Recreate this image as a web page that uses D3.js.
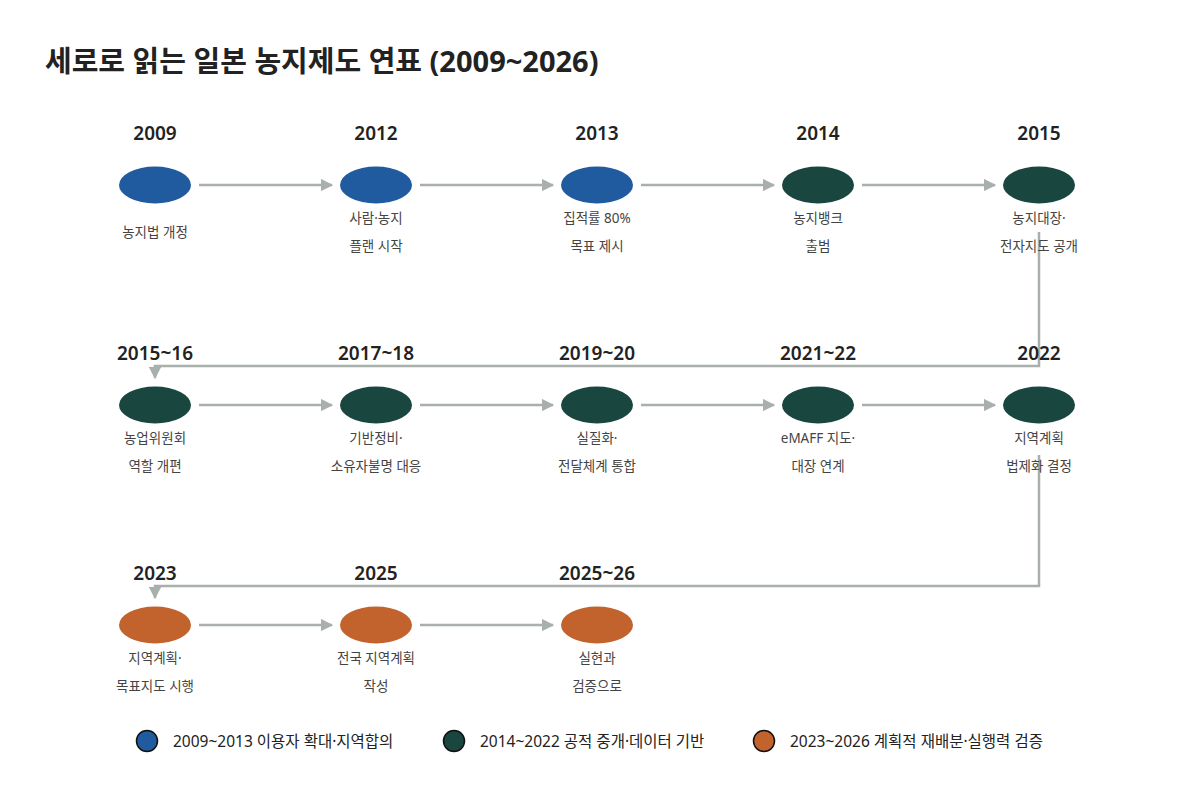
<!DOCTYPE html>
<html><head><meta charset="utf-8">
<script src="https://cdn.jsdelivr.net/npm/d3@7"></script>
<style>body{margin:0;background:#fff;font-family:"Noto Sans","Noto Sans CJK KR",sans-serif}</style>
</head><body><svg id="c" width="1194" height="805"></svg>
<script>
const years = ["2009","2012","2013","2014","2015","2015~16","2017~18","2019~20","2021~22","2022","2023","2025","2025~26"];
const labels = [["농지법 개정"],["사람·농지","플랜 시작"],["집적률 80%","목표 제시"],["농지뱅크","출범"],["농지대장·","전자지도 공개"],
  ["농업위원회","역할 개편"],["기반정비·","소유자불명 대응"],["실질화·","전달체계 통합"],["eMAFF 지도·","대장 연계"],["지역계획","법제화 결정"],
  ["지역계획·","목표지도 시행"],["전국 지역계획","작성"],["실현과","검증으로"]];
const phase = [0,0,0,1,1,1,1,1,1,1,2,2,2];
const phaseNames = ["2009~2013 이용자 확대·지역합의","2014~2022 공적 중개·데이터 기반","2023~2026 계획적 재배분·실행력 검증"];
const colors = ["#1f5b9e","#1a4640","#c2622c"];

const svg = d3.select("#c");
const x = d3.scalePoint().domain(d3.range(5)).range([155,1039]);
const y = d3.scalePoint().domain(d3.range(3)).range([185,625]);
const grey = "#a9b0ab";
svg.append("defs").append("marker").attr("id","ah").attr("viewBox","0 0 10 10").attr("refX",9).attr("refY",5)
  .attr("markerWidth",5).attr("markerHeight",5).attr("orient","auto")
  .append("path").attr("d","M0,0L10,5L0,10Z").attr("fill",grey);

svg.append("text").attr("x",45).attr("y",72).attr("font-size",29).attr("font-weight",700).attr("fill","#222")
  .text("세로로 읽는 일본 농지제도 연표 (2009~2026)");

const nodes = years.map((yr,i)=>({yr,lab:labels[i],ph:phase[i],col:i%5,row:Math.floor(i/5)}));
const g = svg.append("g");
nodes.forEach((d,i)=>{
  const n = nodes[i+1];
  if(n && n.row===d.row){
    g.append("line").attr("x1",x(d.col)+44).attr("x2",x(n.col)-44).attr("y1",y(d.row)).attr("y2",y(d.row))
      .attr("stroke",grey).attr("stroke-width",2.5).attr("marker-end","url(#ah)");
  }
});
[0,1].forEach(r=>{
  const yTop = r===0 ? 232 : y(r)+50, yMid = y(r+1)-39;
  g.append("path").attr("d",`M${x(4)},${yTop}V${yMid}H${x(0)}V${yMid+12}`).attr("fill","none")
    .attr("stroke",grey).attr("stroke-width",2.5).attr("marker-end","url(#ah)");
});
const ng = g.selectAll(".n").data(nodes).join("g").attr("transform",d=>`translate(${x(d.col)},${y(d.row)})`);
ng.append("ellipse").attr("rx",36).attr("ry",18.5).attr("fill",d=>colors[d.ph]);
ng.append("text").attr("y",-45).attr("text-anchor","middle").attr("font-size",19).attr("font-weight",600).attr("fill","#222").text(d=>d.yr);
ng.each(function(d){
  const s = d3.select(this);
  const ys = d.lab.length===1 ? [52] : [38,66];
  d.lab.forEach((t,k)=>s.append("text").attr("y",ys[k]).attr("text-anchor","middle").attr("font-size",13.5).attr("fill","#444").text(t));
});
const lx = [147,454,764];
const lg = svg.selectAll(".lg").data(phaseNames).join("g").attr("transform",(d,i)=>`translate(${lx[i]},741)`);
lg.append("circle").attr("r",10.5).attr("fill",(d,i)=>colors[i]).attr("stroke","#111").attr("stroke-width",1.5);
lg.append("text").attr("x",26).attr("y",6).attr("font-size",15.5).attr("fill","#222").text(d=>d);
</script></body></html>
